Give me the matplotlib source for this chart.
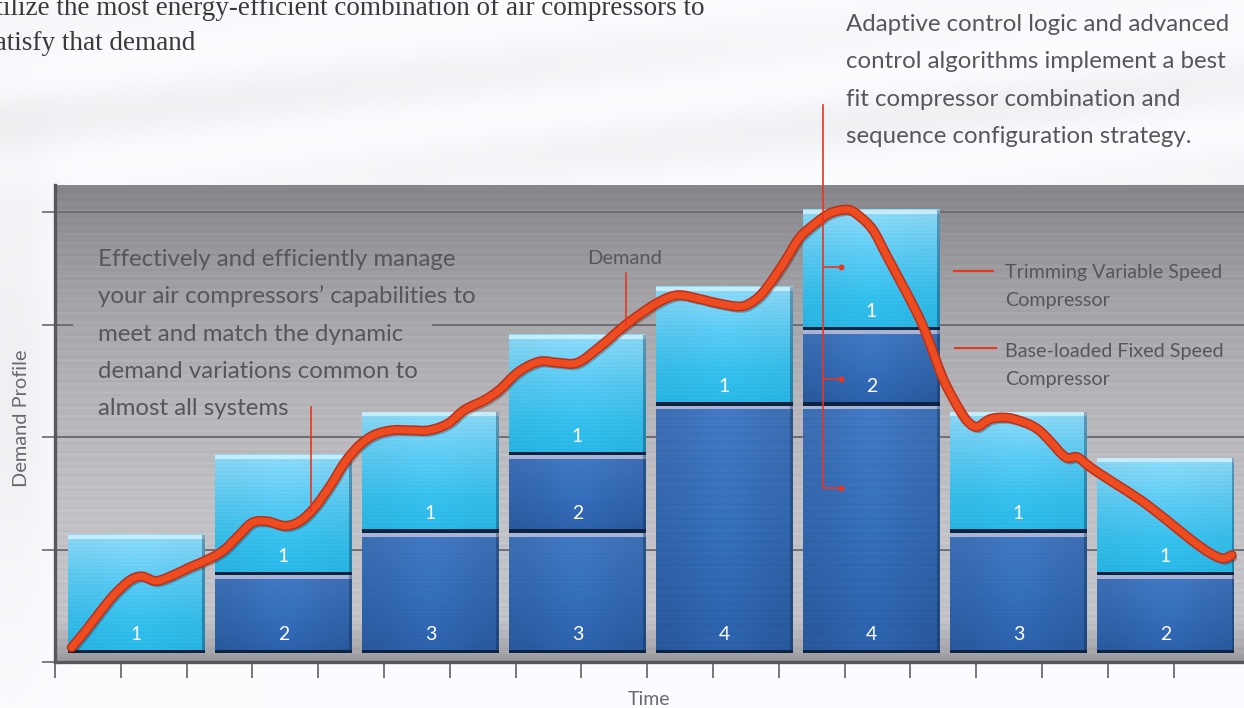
import numpy as np
import matplotlib
matplotlib.use("Agg")
import matplotlib.pyplot as plt
import matplotlib.patheffects as pe
from matplotlib.colors import to_rgb
from matplotlib.path import Path
from matplotlib.patches import PathPatch

W, H = 1244, 708

# demand profile: time in slot units, demand in grid units
time = [-0.44, -0.35, -0.25, -0.15, -0.04, 0.04, 0.13, 0.23, 0.36, 0.50, 0.60, 0.70,
        0.79, 0.89, 1.01, 1.11, 1.21, 1.32, 1.42, 1.52, 1.62, 1.74, 1.86, 1.99, 2.12,
        2.23, 2.37, 2.47, 2.60, 2.74, 2.87, 3.00, 3.15, 3.34, 3.54, 3.68, 3.82, 3.95,
        4.11, 4.21, 4.29, 4.41, 4.51, 4.62, 4.72, 4.84, 4.92, 5.01, 5.10, 5.19, 5.31,
        5.38, 5.49, 5.60, 5.66, 5.72, 5.81, 5.93, 6.06, 6.14, 6.21, 6.32, 6.40, 6.49,
        6.64, 6.83, 7.00, 7.17, 7.30, 7.39, 7.45]
demand = [0.13, 0.27, 0.44, 0.60, 0.73, 0.76, 0.72, 0.76, 0.84, 0.92, 1.00, 1.13,
          1.24, 1.25, 1.21, 1.25, 1.37, 1.57, 1.78, 1.93, 2.02, 2.06, 2.06, 2.06, 2.12,
          2.24, 2.33, 2.42, 2.58, 2.67, 2.66, 2.66, 2.80, 3.01, 3.19, 3.26, 3.23, 3.19,
          3.16, 3.22, 3.33, 3.56, 3.77, 3.90, 3.99, 4.02, 3.96, 3.84, 3.62, 3.40, 3.10,
          2.89, 2.51, 2.24, 2.13, 2.09, 2.16, 2.17, 2.12, 2.06, 1.97, 1.82, 1.82, 1.73,
          1.60, 1.44, 1.27, 1.09, 0.97, 0.92, 0.95]

# compressor stacks per time slot, bottom to top; the top one is the trimming unit
stack_ids = [["1"], ["2", "1"], ["3", "1"], ["3", "2", "1"], ["4", "1"],
             ["4", "2", "1"], ["3", "1"], ["2", "1"]]
stack_heights = [[1.05], [0.69, 1.07], [1.07, 1.07], [1.07, 0.69, 1.07], [2.20, 1.05],
                 [2.20, 0.67, 1.07], [1.07, 1.07], [0.69, 1.04]]

left_text = ["Effectively and efficiently manage",
             "your air compressors\u2019 capabilities to",
             "meet and match the dynamic",
             "demand variations common to",
             "almost all systems"]
right_text = ["Adaptive control logic and advanced",
              "control algorithms implement a best",
              "fit compressor combination and",
              "sequence configuration strategy."]
intro_text = ["utilize the most energy-efficient combination of air compressors to",
              "satisfy that demand"]
legend_text = [["Trimming Variable Speed", "Compressor"],
               ["Base-loaded Fixed Speed", "Compressor"]]

FONT = "Lato"
GREY_TXT = "#56575b"
RED = "#e8361f"


def gradient(stops, n=160):
    pos = [p for p, _ in stops]
    cols = np.array([to_rgb(c) for _, c in stops])
    t = np.linspace(0, 1, n)
    return np.stack([np.interp(t, pos, cols[:, k]) for k in range(3)], axis=-1)


def brushed(col, m=80, centre=0.0):
    n = col.shape[0]
    rows = np.arange(n)
    streak = 1 + 0.035 * np.sin(rows * 1.7) * np.cos(rows * 0.43)
    xs = np.linspace(0, 1, m)
    glow = 1 + centre * np.exp(-((xs - 0.5) / 0.28) ** 2)
    img = col[:, None, :] * streak[:, None, None] * glow[None, :, None]
    return np.clip(img, 0, 1)


def smooth_path(xs, ys):
    # Catmull-Rom through the points, written as cubic Bezier segments
    p = np.column_stack([xs, ys])
    ext = np.vstack([p[0], p, p[-1]])
    verts = [p[0]]
    codes = [Path.MOVETO]
    for i in range(1, len(ext) - 2):
        c1 = ext[i] + (ext[i + 1] - ext[i - 1]) / 6
        c2 = ext[i + 1] - (ext[i + 2] - ext[i]) / 6
        verts += [c1, c2, ext[i + 1]]
        codes += [Path.CURVE4] * 3
    return Path(verts, codes)


fig = plt.figure(figsize=(W / 100, H / 100), dpi=100)

# soft brushed white backdrop
bg = fig.add_axes([0, 0, 1, 1], zorder=0)
yy, xx = np.mgrid[0:H:2, 0:W:2]
u = yy + 0.12 * xx
haze = 1 - 0.045 * (0.5 + 0.5 * np.sin(u / 16.0)) * np.exp(-((yy - 110) / 90.0) ** 2)
haze -= 0.05 * np.exp(-((xx - 10) / 45.0) ** 2) * np.exp(-((yy - 380) / 220.0) ** 2)
bg_img = np.clip(np.stack([haze * 0.985, haze * 0.99, haze], axis=-1), 0, 1)
bg.imshow(bg_img, extent=[0, W, H, 0], aspect="auto", interpolation="bilinear")
bg.set_xlim(0, W)
bg.set_ylim(H, 0)
bg.axis("off")

# chart panel
ax = fig.add_axes([55 / W, (H - 662) / H, (W - 55) / W, (662 - 185) / H], zorder=1)
x0, x1 = -0.554, 7.534
ytop = 4.24

panel = gradient([(0.0, "#858589"), (0.06, "#8f8f93"), (0.24, "#a3a3a8"),
                  (0.45, "#b5b5ba"), (0.70, "#c3c3c7"), (0.91, "#c4c4c8"),
                  (0.985, "#a4a4a8"), (1.0, "#96969a")], n=300)
ax.imshow(brushed(panel, m=4), extent=[x0, x1, 0, ytop], aspect="auto",
          interpolation="bilinear", zorder=0)

grid_kw = dict(color="#6e6e73", lw=1.4, zorder=1)
for g in [1, 2, 4]:
    ax.hlines(g, x0, x1, **grid_kw)
ax.hlines(3, x0, -0.43, **grid_kw)
ax.hlines(3, 2.01, x1, **grid_kw)

# stacked compressor blocks
light_col = gradient([(0.0, "#8cd6f2"), (0.35, "#5cc7ee"), (0.7, "#36bbe7"), (1.0, "#27b3e2")])
dark_col = gradient([(0.0, "#3d6fb4"), (0.5, "#3165ab"), (1.0, "#28589c")])
light_img = brushed(light_col, centre=0.03)
dark_img = brushed(dark_col, centre=0.10)

bw = 0.93
base = 0.08
for i, (ids, hs) in enumerate(zip(stack_ids, stack_heights)):
    bottom = base
    for k, (sid, h) in enumerate(zip(ids, hs)):
        trim = k == len(ids) - 1
        ax.bar(i, h, bottom=bottom, width=bw, color="#3fbde8" if trim else "#3065aa",
               zorder=3)
        ax.imshow(light_img if trim else dark_img,
                  extent=[i - bw / 2, i + bw / 2, bottom, bottom + h],
                  aspect="auto", interpolation="bilinear", zorder=3.1)
        ax.bar(i, 0.035, bottom=bottom + h - 0.035, width=bw,
               color="#c6ecfa" if trim else "#a9b3d6", zorder=3.2)
        ax.bar(i, 0.03, bottom=bottom, width=bw, color="#0c2442", zorder=3.2)
        ax.bar(i + bw / 2 - 0.008, h, bottom=bottom, width=0.016, color="#0c2442",
               alpha=0.35, zorder=3.2)
        ax.text(i, bottom + 0.12, sid, color="white", ha="center", va="baseline",
                fontsize=14, family=FONT, zorder=3.3)
        bottom += h

# demand curve
curve = PathPatch(smooth_path(time, demand), fill=False, edgecolor="#ec4c20", lw=5.0,
                  capstyle="round", joinstyle="round", zorder=6,
                  path_effects=[pe.SimpleLineShadow(offset=(1.5, -2), shadow_color="black",
                                                    alpha=0.25),
                                pe.Stroke(linewidth=7.2, foreground="#bb301a"),
                                pe.Normal()])
ax.add_patch(curve)

# leader lines
lead_kw = dict(color=RED, lw=1.2, zorder=7, clip_on=False)
t_dem = 3.33
ax.plot([t_dem, t_dem], [np.interp(t_dem, time, demand), 3.46], **lead_kw)
t_sys = 1.19
ax.plot([t_sys, t_sys], [np.interp(t_sys, time, demand), 2.27], **lead_kw)

t_vert, t_dot = 4.67, 4.79
dots = [3.51, 2.52, 1.55]
ax.plot([t_vert, t_vert], [dots[-1], 4.95], **lead_kw)
for d in dots:
    ax.plot([t_vert, t_dot], [d, d], **lead_kw)
    ax.plot(t_dot, d, "o", color=RED, ms=3.2, zorder=7)

ax.plot([5.56, 5.83], [3.48, 3.48], color=RED, lw=1.5, zorder=7)
ax.plot([5.57, 5.85], [2.79, 2.79], color=RED, lw=1.5, zorder=7)

ax.set_xlim(x0, x1)
ax.set_ylim(0, ytop)
for side in ["top", "right"]:
    ax.spines[side].set_visible(False)
for side in ["left", "bottom"]:
    ax.spines[side].set_color("#58585c")
    ax.spines[side].set_linewidth(2.4)
    ax.spines[side].set_zorder(8)
ax.set_yticks([0, 1, 2, 3, 4])
ax.set_xticks(x0 + np.arange(18) * 0.4476)
ax.tick_params(axis="y", direction="out", length=9.5, width=1.3, color="#76767a",
               labelleft=False)
ax.tick_params(axis="x", direction="out", length=11.5, width=1.3, color="#6c6c70",
               labelbottom=False)

# text layer in figure pixels
ov = fig.add_axes([0, 0, 1, 1], zorder=2)
ov.set_xlim(0, W)
ov.set_ylim(H, 0)
ov.axis("off")

ov.text(705, 15, intro_text[0], ha="right", va="baseline", fontsize=19.5,
        family="Liberation Serif", color="#3a3a3c")
ov.text(195, 50, intro_text[1], ha="right", va="baseline", fontsize=19.5,
        family="Liberation Serif", color="#3a3a3c")

for j, line in enumerate(right_text):
    ov.text(846, 31 + 37.4 * j, line, ha="left", va="baseline", fontsize=17.3,
            family=FONT, color=GREY_TXT)
for j, line in enumerate(left_text):
    ov.text(98, 266 + 37.3 * j, line, ha="left", va="baseline", fontsize=17.3,
            family=FONT, color=GREY_TXT)

ov.text(625, 264, "Demand", ha="center", va="baseline", fontsize=14.5,
        family=FONT, color=GREY_TXT)
for j, (l1, l2) in enumerate(legend_text):
    yb = 278 + 79 * j
    ov.text(1005, yb, l1, ha="left", va="baseline", fontsize=14.2, family=FONT,
            color=GREY_TXT)
    ov.text(1005, yb + 28, l2, ha="left", va="baseline", fontsize=14.2, family=FONT,
            color=GREY_TXT)

ov.text(22, 418, "Demand Profile", rotation=90, ha="center", va="center",
        fontsize=14.4, family=FONT, color="#6a6a6e")
ov.text(649, 705, "Time", ha="center", va="baseline", fontsize=14, family=FONT,
        color="#6a6a6e")

fig.savefig("out.png", dpi=100)
